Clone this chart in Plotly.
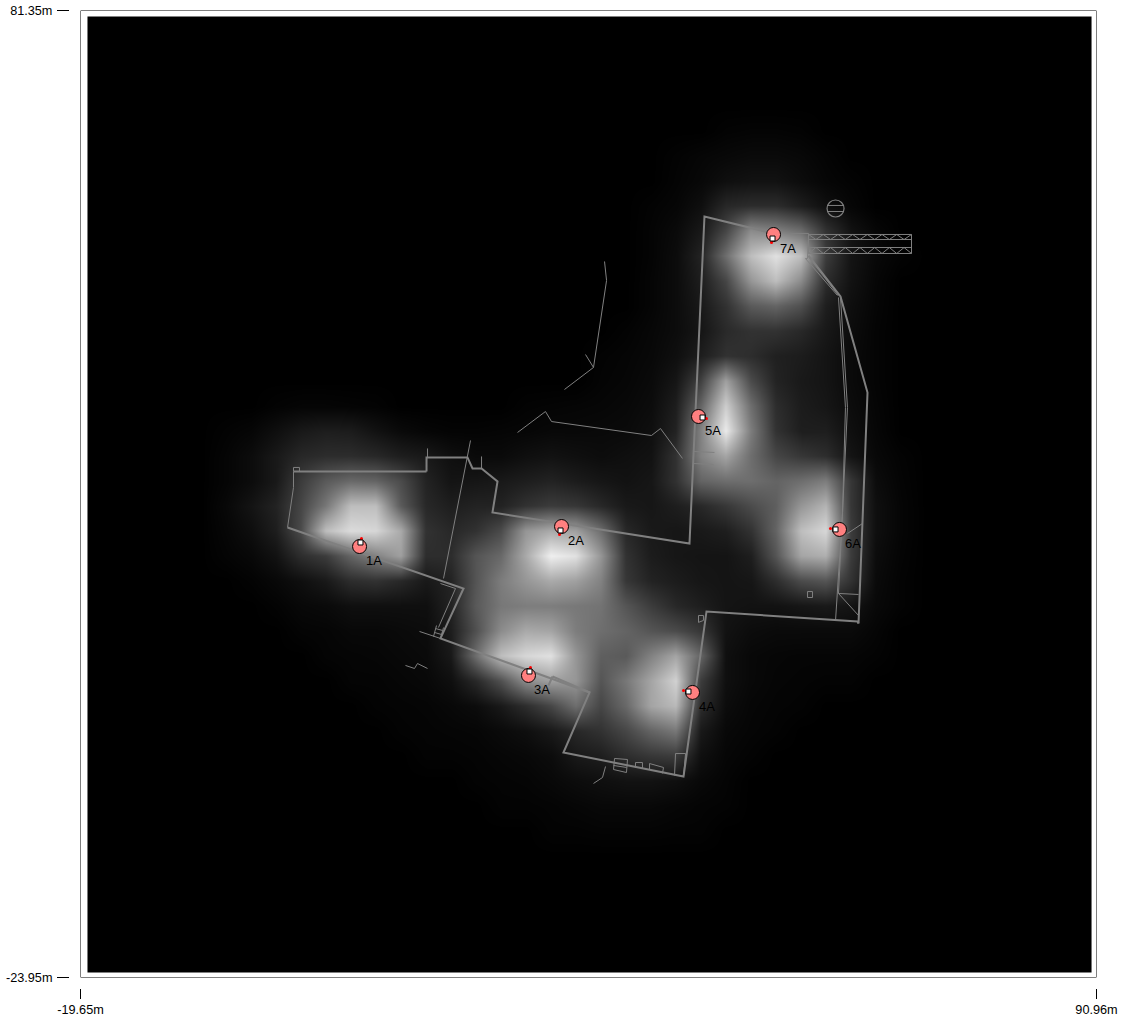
import plotly.graph_objects as go

W, H = 1125, 1019
X_RANGE = [-19.65, 90.96]
Y_RANGE = [-23.95, 81.35]
X_TICKS = [-19.65, 90.96]
Y_TICKS = [-23.95, 81.35]
X_LABELS = ["-19.65m", "90.96m"]
Y_LABELS = ["-23.95m", "81.35m"]

# field extent (metres)
FIELD = [-18.89, 90.42, -23.41, 80.70]

# heat grid, 2.722 m spacing, top row first, grey level 0-255
HEAT_X0, HEAT_DX = -6.58, 2.722
HEAT_Y0, HEAT_DY = 71.00, -2.722
HEAT_Z = [
 [0,0,0,0,0,0,0,0,0,0,0,0,0,0,0,0,0,0,0,0,0,0,0,0,0,0,0,0,0,0],
 [0,0,0,0,0,0,0,0,0,0,0,0,0,0,0,0,0,0,0,0,0,3,4,4,3,0,0,0,0,0],
 [0,0,0,0,0,0,0,0,0,0,0,0,0,0,0,0,0,0,0,3,6,8,10,10,8,4,0,0,0,0],
 [0,0,0,0,0,0,0,0,0,0,0,0,0,0,0,0,0,0,0,4,8,15,18,18,12,6,3,0,0,0],
 [0,0,0,0,0,0,0,0,0,0,0,0,0,0,0,0,0,0,3,6,15,40,45,45,30,15,6,0,0,0],
 [0,0,0,0,0,0,0,0,0,0,0,0,0,0,0,0,0,0,4,10,25,70,140,130,110,50,18,6,0,0],
 [0,0,0,0,0,0,0,0,0,0,0,0,0,0,0,0,0,0,4,12,35,110,190,225,190,60,20,8,3,0],
 [0,0,0,0,0,0,0,0,0,0,0,0,0,0,0,0,0,0,5,12,30,70,150,190,140,45,18,6,0,0],
 [0,0,0,0,0,0,0,0,0,0,0,0,0,0,0,0,0,0,5,12,25,50,90,100,80,30,14,5,0,0],
 [0,0,0,0,0,0,0,0,0,0,0,0,0,0,0,0,0,3,7,12,22,42,50,50,40,24,12,4,0,0],
 [0,0,0,0,0,0,0,0,0,0,0,0,0,0,0,0,3,5,8,15,30,50,45,32,28,20,10,4,0,0],
 [0,0,0,0,0,0,0,0,0,0,0,0,0,0,0,0,4,6,10,22,65,160,75,35,25,20,10,4,0,0],
 [0,0,0,3,5,5,4,3,0,0,0,0,0,3,4,5,6,8,12,30,100,205,110,45,28,22,12,5,0,0],
 [0,3,6,15,25,30,28,18,10,6,4,4,5,6,8,8,9,10,15,35,130,235,125,50,30,30,15,6,0,0],
 [0,5,12,25,40,45,45,40,30,25,15,10,10,15,18,15,12,15,18,50,130,165,110,70,55,45,20,8,3,0],
 [0,5,12,25,60,90,105,100,75,35,20,22,25,30,35,28,22,18,22,50,100,110,110,100,110,125,55,12,4,0],
 [0,8,20,35,70,120,190,190,90,40,30,35,35,50,60,55,40,25,22,30,40,55,75,95,150,180,55,15,5,0],
 [0,6,14,30,75,190,220,215,170,50,40,50,75,150,170,160,110,40,25,22,25,30,50,100,190,215,60,15,5,0],
 [0,4,8,18,45,60,100,130,160,45,45,85,105,170,240,225,150,50,28,22,20,20,30,85,165,175,60,12,4,0],
 [0,0,3,8,15,25,45,50,40,25,35,85,125,150,170,160,130,55,35,28,22,20,22,45,75,85,50,10,3,0],
 [0,0,0,3,8,10,15,15,15,15,35,90,120,125,125,120,115,85,60,40,30,20,18,18,22,25,20,8,3,0],
 [0,0,0,0,4,5,8,8,10,12,30,80,140,170,165,125,110,100,85,75,55,18,12,10,10,10,10,5,0,0],
 [0,0,0,0,0,4,5,6,8,10,25,110,190,215,225,150,95,90,130,165,100,15,8,6,5,5,5,3,0,0],
 [0,0,0,0,0,0,4,4,6,8,15,40,80,140,160,150,85,120,165,210,60,15,8,5,4,3,3,0,0,0],
 [0,0,0,0,0,0,0,3,4,5,8,12,25,45,70,110,70,105,165,185,45,12,6,4,3,0,0,0,0,0],
 [0,0,0,0,0,0,0,0,3,4,5,6,10,15,25,40,50,70,100,120,25,8,5,3,0,0,0,0,0,0],
 [0,0,0,0,0,0,0,0,0,3,3,4,6,8,12,25,30,45,55,60,15,6,3,0,0,0,0,0,0,0],
 [0,0,0,0,0,0,0,0,0,0,0,3,4,5,8,12,15,18,18,15,8,4,0,0,0,0,0,0,0,0],
 [0,0,0,0,0,0,0,0,0,0,0,0,3,3,4,6,8,8,8,6,4,3,0,0,0,0,0,0,0,0],
 [0,0,0,0,0,0,0,0,0,0,0,0,0,0,3,3,4,4,4,3,3,0,0,0,0,0,0,0,0,0],
 [0,0,0,0,0,0,0,0,0,0,0,0,0,0,0,0,0,0,0,0,0,0,0,0,0,0,0,0,0,0],
]

# sensors
SENSOR_NAMES = ["1A", "2A", "3A", "4A", "5A", "6A", "7A"]
SENSOR_X = [10.73, 32.72, 29.12, 46.98, 47.63, 62.98, 55.80]
SENSOR_Y = [22.98, 25.16, 8.94, 7.09, 37.14, 24.84, 56.96]
ANT_X = [10.83, 32.61, 29.23, 46.54, 48.07, 62.55, 55.69]
ANT_Y = [23.42, 24.73, 9.37, 7.19, 37.03, 24.84, 56.52]
TIP_X = [10.94, 32.50, 29.34, 46.00, 48.50, 62.00, 55.58]
TIP_Y = [23.86, 24.29, 9.81, 7.30, 36.92, 24.94, 56.09]

# floor-plan outlines, each entry is (xs, ys)
WALLS_HEAVY = [
 ([18.02, 3.54], [31.15, 31.15]),
 ([2.89, 22.05, 19.54, 35.77, 32.93, 46.00, 48.50, 64.94, 65.05],
  [25.05, 18.41, 12.97, 7.09, 0.55, -2.06, 15.91, 14.82, 14.60]),
 ([18.02, 18.02, 22.48, 23.03, 24.01, 25.75, 25.20, 46.65, 48.28, 55.80],
  [31.15, 32.68, 32.68, 31.48, 31.48, 30.06, 26.69, 23.31, 58.92, 57.07]),
 ([31.74, 35.77], [8.83, 7.09]),
 ([31.74, 31.30], [8.83, 7.85]),
 ([65.05, 65.49, 66.03, 63.09, 59.61], [14.60, 25.49, 39.75, 50.21, 54.67]),
]
WALLS_LIGHT = [
 ([3.54, 3.54, 2.89], [31.15, 29.41, 25.05]),
 ([3.54, 3.54, 4.19, 4.19], [31.15, 31.59, 31.59, 31.15]),
 ([18.13, 18.13], [32.68, 33.66]),
 ([24.01, 24.01], [31.48, 32.79]),
 ([22.81, 19.87], [34.53, 19.50]),
 ([19.54, 21.18, 19.32], [18.95, 18.41, 14.16]),
 ([17.26, 19.54], [13.73, 12.97]),
 ([15.73, 16.71, 17.04, 18.13], [10.03, 9.70, 10.24, 9.70]),
 ([19.11, 18.78], [14.38, 13.18]),
 ([19.87, 19.54], [14.16, 12.97]),
 ([19.00, 19.76], [14.05, 13.84]),
 ([18.89, 19.65], [13.62, 13.40]),
 ([37.40, 37.62, 36.20, 33.04], [54.02, 51.95, 42.48, 40.08]),
 ([35.33, 36.20], [43.89, 42.48]),
 ([27.93, 30.97, 31.63, 42.51, 43.49, 45.89], [35.40, 37.68, 36.59, 35.07, 35.83, 32.57]),
 ([47.09, 49.37], [33.33, 33.22]),
 ([47.09, 49.26], [32.02, 31.91]),
 ([59.28, 62.76], [54.34, 50.32]),
 ([59.50, 62.87], [54.67, 50.32]),
 ([62.87, 63.63, 63.31, 62.55], [50.10, 38.12, 26.69, 14.93]),
 ([63.09, 63.85, 63.31, 62.87], [50.10, 38.12, 26.69, 17.87]),
 ([62.87, 65.05], [17.87, 17.76]),
 ([62.87, 65.05], [17.87, 15.47]),
 ([63.85, 65.49], [24.40, 25.49]),
 ([57.32, 59.61, 59.50, 59.28], [57.07, 57.07, 54.34, 54.34]),
 ([59.50, 60.04, 60.04, 59.50, 59.50], [18.08, 18.08, 17.43, 17.43, 18.08]),
 ([47.63, 48.17, 48.17, 47.63, 47.63], [15.47, 15.47, 14.93, 14.72, 15.47]),
 ([38.49, 39.90, 39.79, 38.38, 38.49], [-0.10, -0.21, -1.63, -1.30, -0.10]),
 ([38.38, 39.79], [-0.86, -1.08]),
 ([40.77, 41.53, 41.53], [-0.54, -0.54, -1.19]),
 ([40.77, 40.77], [-0.54, -1.08]),
 ([42.30, 43.82, 43.71], [-0.65, -1.08, -1.73]),
 ([42.30, 42.30], [-0.65, -1.30]),
 ([45.02, 45.13, 46.22, 46.00], [-1.95, 0.44, 0.44, -2.06]),
 ([37.51, 37.18, 36.20], [-0.97, -2.17, -2.82]),
 ([59.61, 70.82, 70.82, 59.61, 59.61], [56.96, 56.96, 54.89, 54.89, 56.96]),
 ([59.61, 70.82], [56.41, 56.41]),
 ([59.61, 70.82], [55.54, 55.54]),
 ([59.61, 60.41, 61.21, 62.01, 62.81, 63.61, 64.41, 65.21, 66.01, 66.81, 67.61, 68.41, 69.21, 70.01, 70.82],
  [56.96, 56.41, 56.96, 56.41, 56.96, 56.41, 56.96, 56.41, 56.96, 56.41, 56.96, 56.41, 56.96, 56.41, 56.96]),
 ([59.61, 60.41, 61.21, 62.01, 62.81, 63.61, 64.41, 65.21, 66.01, 66.81, 67.61, 68.41, 69.21, 70.01, 70.82],
  [54.89, 55.54, 54.89, 55.54, 54.89, 55.54, 54.89, 55.54, 54.89, 55.54, 54.89, 55.54, 54.89, 55.54, 54.89]),
 ([61.67, 63.41], [60.12, 60.12]),
 ([61.67, 63.41], [59.46, 59.46]),
]
TANK_X, TANK_Y = [62.55], [59.79]

LINE_GREY = "#808080"
FONT = "Liberation Sans, Arial, sans-serif"

fig = go.Figure()
fig.add_trace(go.Heatmap(
    z=HEAT_Z, x0=HEAT_X0, dx=HEAT_DX, y0=HEAT_Y0, dy=HEAT_DY,
    zmin=0, zmax=255, zsmooth="best", showscale=False, hoverinfo="skip",
    colorscale=[[0, "#000000"], [1, "#ffffff"]],
))


def outline(xs, ys, width):
    fig.add_trace(go.Scatter(x=xs, y=ys, mode="lines", hoverinfo="skip", showlegend=False,
                             line=dict(color=LINE_GREY, width=width)))


for xs, ys in WALLS_LIGHT:
    outline(xs, ys, 1)
for xs, ys in WALLS_HEAVY:
    outline(xs, ys, 2)

fig.add_trace(go.Scatter(x=TANK_X, y=TANK_Y, mode="markers", showlegend=False, hoverinfo="skip",
                         marker=dict(symbol="circle-open", size=17, color=LINE_GREY, line=dict(width=1.2, color=LINE_GREY))))
fig.add_trace(go.Scatter(x=SENSOR_X, y=SENSOR_Y, mode="markers", showlegend=False, hoverinfo="skip",
                         marker=dict(symbol="circle", size=14, color="#ff8080", line=dict(width=1, color="#000000"))))
fig.add_trace(go.Scatter(x=TIP_X, y=TIP_Y, mode="markers", showlegend=False, hoverinfo="skip",
                         marker=dict(symbol="circle", size=3, color="#ff0000")))
fig.add_trace(go.Scatter(x=ANT_X, y=ANT_Y, mode="markers", showlegend=False, hoverinfo="skip",
                         marker=dict(symbol="square", size=5, color="#ffffff", line=dict(width=1, color="#000000"))))

for name, x, y in zip(SENSOR_NAMES, SENSOR_X, SENSOR_Y):
    fig.add_annotation(x=x, y=y, text=name, showarrow=False, xshift=14, yshift=-14,
                       font=dict(family=FONT, size=13, color="#000000"))

fig.update_layout(
    width=W, height=H, autosize=False,
    margin=dict(l=0, r=0, t=0, b=0, pad=0, autoexpand=False),
    paper_bgcolor="#ffffff", plot_bgcolor="#ffffff",
    showlegend=False,
    font=dict(family=FONT, size=12.7, color="#000000"),
    xaxis=dict(domain=[80.5 / W, 1096.5 / W], range=X_RANGE, anchor="free", position=(H - 988) / H,
               tickvals=X_TICKS, ticktext=X_LABELS, ticks="outside", ticklen=10, tickcolor="#000000",
               tickwidth=1, showgrid=False, zeroline=False, showline=False, automargin=False),
    yaxis=dict(domain=[(H - 977.5) / H, (H - 10.5) / H], range=Y_RANGE, anchor="free", position=69 / W,
               tickvals=Y_TICKS, ticktext=Y_LABELS, ticks="outside", ticklen=12, tickcolor="#000000",
               tickwidth=1, showgrid=False, zeroline=False, showline=False, automargin=False,
               ticklabelstandoff=2),
    shapes=[
        dict(type="rect", xref="x", yref="y", x0=FIELD[0], x1=FIELD[1], y0=FIELD[2], y1=FIELD[3],
             fillcolor="#000000", line=dict(width=0), layer="below"),
        dict(type="rect", xref="x", yref="y", x0=X_RANGE[0], x1=X_RANGE[1], y0=Y_RANGE[0], y1=Y_RANGE[1],
             fillcolor="rgba(0,0,0,0)", line=dict(width=1, color="#000000"), layer="above"),
    ],
)

fig.write_html("out.html", config={"displayModeBar": False},
               post_script="document.body.style.margin='0';document.body.style.overflow='hidden';")
